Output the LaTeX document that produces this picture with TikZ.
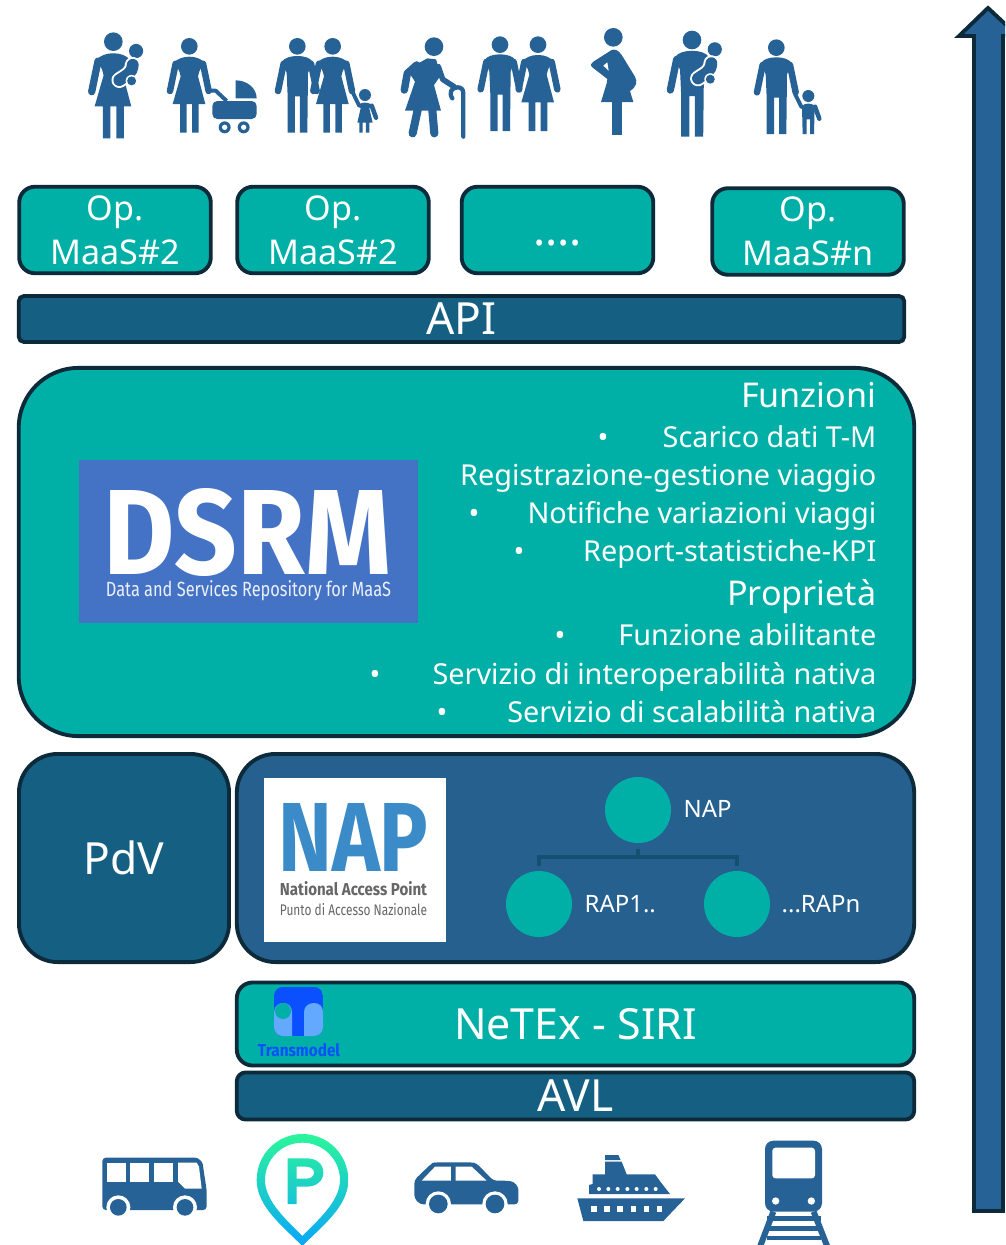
\documentclass[tikz,border=0pt]{standalone}
\usepackage{graphicx}
\usepackage{fontspec}
\setmainfont{Noto Sans}
\newfontfamily\logofont{Fira Sans}

\definecolor{tealbox}{HTML}{00B0A6}
\definecolor{darkteal}{HTML}{156082}
\definecolor{napblue}{HTML}{25608F}
\definecolor{iconblue}{HTML}{266295}
\definecolor{edgeblue}{HTML}{0C2A3A}
\definecolor{dsrmblue}{HTML}{4472C4}
\definecolor{naptext}{HTML}{3A8BC8}
\definecolor{treeline}{HTML}{14506F}
\definecolor{tmlight}{HTML}{63A9FF}
\definecolor{tmdark}{HTML}{0A50FF}
\definecolor{pintop}{HTML}{2CF59B}
\definecolor{pinbottom}{HTML}{0AA6F8}

\tikzset{
    tealframe/.style={draw=edgeblue,line width=1.1pt,fill=tealbox,text=white,inner sep=0pt},
    darkframe/.style={draw=edgeblue,line width=1.1pt,fill=darkteal,text=white,inner sep=0pt},
    opbox/.style={tealframe,minimum width=1.915cm,minimum height=0.865cm,rounded corners=4.5pt,align=center,font=\fontsize{9.7}{12.6}\selectfont},
    bigtext/.style={font=\fontsize{12.6}{15}\selectfont},
    rowtext/.style={text=white,anchor=east,inner sep=0pt,text height=8.1pt,text depth=2pt,font=\fontsize{8.2}{11}\selectfont},
    headtext/.style={text=white,anchor=east,inner sep=0pt,text height=9.4pt,text depth=2.5pt,font=\fontsize{9.7}{12}\selectfont},
    rapnode/.style={circle,fill=tealbox,minimum size=0.66cm,inner sep=0pt},
    raplabel/.style={text=white,anchor=west,inner sep=0pt,font=\fontsize{6.8}{8}\selectfont},
    treelink/.style={draw=treeline,line width=1.1pt},
    iconlimb/.style={draw=iconblue,line cap=round,line join=round,line width=#1*1.85pt}
}

% figures, head at the origin, head radius 25
\newcommand{\manbody}{
    \fill [iconblue] (0,0) circle (25);
    \fill [iconblue] (0,29) .. controls (-20,29) and (-38,34) .. (-46,46) -- (-32,80) -- (-29,150) -- (-29,259) -- (-7,259) -- (-7,150) -- (8,150) -- (8,259) -- (30,259) -- (32,80) -- (46,46) .. controls (38,34) and (20,29) .. (0,29);
}
\newcommand{\womanbody}{
    \fill [iconblue] (0,0) circle (25);
    \fill [iconblue] (0,31) .. controls (-20,31) and (-36,38) .. (-44,48) -- (-30,75) -- (-26,90) -- (-50,173) -- (-28,173) -- (-28,259) -- (-8,259) -- (-8,173) -- (8,173) -- (8,259) -- (28,259) -- (28,173) -- (48,173) -- (26,90) -- (30,75) -- (44,48) .. controls (36,38) and (20,31) .. (0,31);
}
\newcommand{\armleft}[1]{\draw [iconlimb=#1] (-41,52) -- (-58,134);}
\newcommand{\armright}[1]{\draw [iconlimb=#1] (41,52) -- (58,134);}
\newcommand{\babyfig}[1]{
    \fill [iconblue] (61,25) circle (19);
    \draw [white,line width=#1*4pt,line cap=round] (52,62) .. controls (50,85) and (38,88) .. (16,103);
    \draw [iconblue,line width=#1*3pt,line cap=round] (52,62) .. controls (50,85) and (38,88) .. (16,103);
    \fill [white] (49,105) circle (16);
    \fill [iconblue] (49,105) circle (12);
}
\newcommand{\kidtorso}{
    \fill [iconblue] (0,0) circle (18);
    \draw [iconlimb=0.7] (20,32) -- (33,68);
}

\begin{document}
\begin{tikzpicture}[x=0.01cm,y=-0.01cm]
    \useasboundingbox (0,0) rectangle (1005,1245);
    \clip (0,0) rectangle (1005,1245);

    %%%%%%%%%%%%%%%%%%% Operators %%%%%%%%%%%%%%%%%%%%%%%%%%%
    \node [opbox] (opa) at (115,230) {Op.\\MaaS\#2};
    \node [opbox] (opb) at (333,230) {Op.\\MaaS\#2};
    \node [opbox] (opc) at (557.5,230) {{\fontsize{13}{15}\selectfont\raisebox{-1.3ex}{....}}};
    \node [opbox] (opn) at (808,231.5) {Op.\\MaaS\#n};
    \node [darkframe,bigtext,minimum width=8.85cm,minimum height=0.46cm,rounded corners=1.5pt] (api) at (461.5,319) {API};

    %%%%%%%%%%%%%%%%%%% DSRM %%%%%%%%%%%%%%%%%%%%%%%%%%%%%%%
    \node [tealframe,minimum width=8.95cm,minimum height=3.68cm,rounded corners=17pt] (dsrm) at (466.5,552) {};
    \node [fill=dsrmblue,minimum width=3.39cm,minimum height=1.63cm,inner sep=0pt] (dsrmlogo) at (248.5,541.5) {};
    \node [inner sep=0pt,text=white] (dsrmname) at (247.5,532) {\resizebox{2.88cm}{0.86cm}{\logofont\bfseries DSRM}};
    \node [inner sep=0pt,text=white!90!dsrmblue] (dsrmsub) at (248.5,591) {\resizebox{2.85cm}{0.16cm}{\logofont Data and Services Repository for MaaS}};

    \node [headtext] (funz) at (877,395) {Funzioni};
    \node [headtext] (prop) at (877,593) {Proprietà};
    \foreach \nam/\yy/\txt in {a/437/Scarico dati T-M,b/475/Registrazione-gestione viaggio,c/513/Notifiche variazioni viaggi,d/551/Report-statistiche-KPI,e/635/Funzione abilitante,f/674/Servizio di interoperabilità nativa,g/712/Servizio di scalabilità nativa} {
        \node [rowtext] (row\nam) at (877,\yy) {\txt};
    }
    \foreach \nam/\xx/\yy in {a/603/437,c/474/513,d/519/551,e/560/635,f/375/674,g/442/712} {
        \node [rowtext,anchor=center] (dot\nam) at (\xx,\yy) {•};
    }

    %%%%%%%%%%%%%%%%%%% PdV and NAP %%%%%%%%%%%%%%%%%%%%%%%%%%
    \node [darkframe,bigtext,minimum width=2.1cm,minimum height=2.08cm,rounded corners=11pt] (pdv) at (124,858) {PdV};
    \node [tealframe,fill=napblue,minimum width=6.77cm,minimum height=2.08cm,rounded corners=11pt] (nap) at (575.5,858) {};
    \node [fill=white,minimum width=1.82cm,minimum height=1.64cm,inner sep=0pt] (naplogo) at (355,860) {};
    \node [inner sep=0pt,text=naptext] (napname) at (353.5,837) {\resizebox{1.5cm}{0.68cm}{\logofont\bfseries NAP}};
    \node [inner sep=0pt,text=black!60] (napline) at (353.5,889) {\resizebox{1.47cm}{0.14cm}{\logofont\bfseries National Access Point}};
    \node [inner sep=0pt,text=black!60] (napsub) at (353.5,910) {\resizebox{1.47cm}{0.12cm}{\logofont Punto di Accesso Nazionale}};

    % tree
    \node [rapnode] (naproot) at (638,810) {};
    \node [rapnode] (rapa) at (539,904) {};
    \node [rapnode] (rapn) at (737,904) {};
    \coordinate (napstub) at (638,849);
    \coordinate (napjoin) at (638,857);
    \coordinate (rapatop) at (539,866);
    \coordinate (rapntop) at (737,866);
    \draw [treelink] (napstub) -- (napjoin);
    \draw [treelink] (napjoin) -| (rapatop);
    \draw [treelink] (napjoin) -| (rapntop);
    \node [raplabel] (labnap) at (683,809) {NAP};
    \node [raplabel] (laba) at (584,904) {RAP1..};
    \node [raplabel] (labn) at (781,904) {...RAPn};

    %%%%%%%%%%%%%%%%%%% Bottom bars %%%%%%%%%%%%%%%%%%%%%%%%%%
    \node [tealframe,font=\fontsize{12.2}{15}\selectfont,minimum width=6.77cm,minimum height=0.83cm,rounded corners=4.5pt] (netex) at (575.5,1024) {NeTEx - SIRI};
    \node [darkframe,bigtext,minimum width=6.77cm,minimum height=0.47cm,rounded corners=2.5pt] (avl) at (575.5,1096) {AVL};

    % Transmodel
    \begin{scope}
        \clip [rounded corners=2.5pt] (274,987) rectangle (323,1036);
        \fill [tmdark] (274,987) rectangle (323,1036);
        \fill [tmlight] (274,1036) -- (274,1012) .. controls (274,1006) and (279,1003) .. (283,1003) .. controls (288,1003) and (292,1006) .. (292,1012) -- (292,1036) -- cycle;
        \fill [tmlight] (304,1036) -- (304,1012) .. controls (304,1006) and (309,1003) .. (314,1003) .. controls (319,1003) and (323,1006) .. (323,1012) -- (323,1036) -- cycle;
    \end{scope}
    \fill [tealbox] (283,1011) circle (8);
    \node [inner sep=0pt,text=tmdark] (tmname) at (299,1050) {\resizebox{0.82cm}{0.13cm}{\logofont\bfseries Transmodel}};

    %%%%%%%%%%%%%%%%%%% Side arrow %%%%%%%%%%%%%%%%%%%%%%%%%%
    \draw [draw=edgeblue,line width=1.1pt,fill=iconblue,line join=miter] (988,8) -- (1018,36) -- (1003,36) -- (1003,1211) -- (974,1211) -- (974,36) -- (959,36) -- cycle;

    %%%%%%%%%%%%%%%%%%% People, first half %%%%%%%%%%%%%%%%%%%
    \begin{scope}[shift={(70,20)},scale=1/3]
        % mother and baby
        \begin{scope}[shift={(130,65)},scale=1.12]
            \womanbody \armleft{1.12} \babyfig{1.12}
        \end{scope}
        % mother and stroller
        \begin{scope}[shift={(358,79)}]
            \womanbody \armleft{1} \armright{1}
        \end{scope}
        \draw [iconlimb=0.6,line cap=butt] (415,212) -- (437,212) -- (470,243);
        \fill [iconblue] (497,181) .. controls (532,181) and (560,205) .. (560,235) -- (497,235) -- cycle;
        \fill [iconblue,rounded corners=1.4pt] (427,243) -- (560,243) -- (560,297) -- (427,297) -- cycle;
        \foreach \xx in {464,521} {
            \fill [iconblue] (\xx,322) circle (18);
            \fill [white] (\xx,322) circle (8);
        }
        % couple and child
        \begin{scope}[shift={(682,79)}]
            \manbody \armleft{1} \armright{1}
        \end{scope}
        \begin{scope}[shift={(788,79)}]
            \womanbody \armleft{1} \armright{1}
        \end{scope}
        \draw [iconlimb=0.6] (846,213) -- (868,258);
        \begin{scope}[shift={(885,225)}]
            \kidtorso
            \fill [iconblue] (0,23) .. controls (-10,23) and (-18,26) .. (-20,32) -- (-13,40) -- (-23,83) -- (-17,83) -- (-17,113) -- (-7,113) -- (-7,83) -- (3,83) -- (3,113) -- (13,113) -- (13,83) -- (23,83) -- (13,40) -- (20,32) .. controls (18,26) and (10,23) .. (0,23);
        \end{scope}
        % old woman and cane
        \fill [iconblue] (1092,80) circle (28);
        \fill [iconblue] (1072,115) -- (1098,118) -- (1113,165) -- (1092,195) -- (1113,272) -- (1005,272) -- (1035,185) -- (1022,165) -- (1008,150) -- cycle;
        \draw [iconlimb=1.15] (1040,135) -- (1012,160) -- (1003,210);
        \draw [iconlimb=0.85] (1105,140) -- (1118,178) -- (1152,200);
        \draw [iconlimb=1.25] (1043,270) -- (1028,340);
        \draw [iconlimb=1.25] (1087,270) -- (1093,340);
        \draw [iconlimb=0.66] (1147,235) .. controls (1135,218) and (1145,202) .. (1163,202) .. controls (1175,202) and (1180,210) .. (1180,220) -- (1180,350);
    \end{scope}

    %%%%%%%%%%%%%%%%%%% People, second half %%%%%%%%%%%%%%%%%%
    \begin{scope}[shift={(460,20)},scale=1/3]
        % couple
        \begin{scope}[shift={(120,74)}]
            \manbody \armleft{1} \armright{1}
        \end{scope}
        \begin{scope}[shift={(234,74)}]
            \womanbody \armleft{1} \armright{1}
        \end{scope}
        % pregnant woman
        \fill [iconblue] (460,52) circle (28);
        \fill [iconblue] (455,90) .. controls (465,87) and (475,90) .. (485,105) -- (525,170) .. controls (533,185) and (530,200) .. (510,213) -- (520,246) -- (423,246) -- (440,190) -- (442,177) -- (397,142) .. controls (390,135) and (393,130) .. (400,125) -- cycle;
        \fill [white] (430,137) -- (442,127) -- (446,152) -- cycle;
        \fill [iconblue] (457,240) rectangle (486,346);
        % father and baby
        \begin{scope}[shift={(696,60)},scale=1.12]
            \manbody \armleft{1.12} \babyfig{1.12}
        \end{scope}
        % father and child
        \begin{scope}[shift={(949,83)}]
            \manbody \armleft{1} \armright{1}
        \end{scope}
        \draw [iconlimb=0.6] (1005,222) -- (1025,262);
        \begin{scope}[shift={(1045,228)}]
            \kidtorso
            \fill [iconblue] (0,23) .. controls (-10,23) and (-17,26) .. (-19,32) -- (-17,114) -- (-5,114) -- (-5,70) -- (5,70) -- (5,114) -- (17,114) -- (19,32) .. controls (17,26) and (10,23) .. (0,23);
        \end{scope}
    \end{scope}

    %%%%%%%%%%%%%%%%%%% Vehicles %%%%%%%%%%%%%%%%%%%%%%%%%%%%%
    \begin{scope}[shift={(70,1130)},scale=1/3]
        % bus
        \fill [iconblue,rounded corners=1pt] (97,83) -- (365,83) .. controls (385,83) and (398,95) .. (400,115) -- (410,180) -- (410,240) -- (97,240) -- cycle;
        \foreach \xx in {110,181,252} {
            \fill [white] (\xx,98) rectangle (\xx+57,155);
        }
        \fill [white] (324,98) -- (380,98) -- (387,110) -- (395,176) -- (345,176) -- (324,155) -- cycle;
        \foreach \xx in {145,345} {
            \fill [white] (\xx,232) circle (36);
        }
        \fill [white] (90,246) rectangle (420,265);
        \foreach \xx in {145,345} {
            \fill [iconblue] (\xx,232) circle (25);
        }
        % parking
        \shade [even odd rule,top color=pintop,bottom color=pinbottom]
            (697,348) .. controls (640,290) and (560,230) .. (560,150) .. controls (560,74) and (621,12) .. (697,12) .. controls (773,12) and (835,74) .. (835,150) .. controls (835,230) and (754,290) .. (697,348) -- cycle
            (697,318) .. controls (655,275) and (585,215) .. (585,150) .. controls (585,88) and (635,38) .. (697,38) .. controls (759,38) and (810,88) .. (810,150) .. controls (810,215) and (739,275) .. (697,318) -- cycle
            (653,85) -- (710,85) .. controls (740,85) and (760,102) .. (760,128) .. controls (760,152) and (740,170) .. (710,170) -- (680,170) -- (680,222) -- (653,222) -- cycle
            (680,110) -- (708,110) .. controls (722,110) and (732,117) .. (732,128) .. controls (732,139) and (722,146) .. (708,146) -- (680,146) -- cycle;
        % car
        \fill [iconblue,rounded corners=1pt] (1033,150) -- (1085,100) -- (1095,97) -- (1205,97) -- (1220,100) -- (1270,152) -- (1310,152) .. controls (1335,155) and (1345,170) .. (1345,190) -- (1345,223) -- (1050,223) -- (1033,205) -- cycle;
        \fill [white] (1055,152) -- (1095,110) -- (1143,110) -- (1143,152) -- cycle;
        \fill [white] (1157,110) -- (1205,110) -- (1250,152) -- (1157,152) -- cycle;
        \foreach \xx in {1105,1275} {
            \fill [white] (\xx,222) circle (38);
        }
        \fill [white] (1020,226) rectangle (1350,265);
        \foreach \xx in {1105,1275} {
            \fill [iconblue] (\xx,222) circle (28);
        }
    \end{scope}
    \begin{scope}[shift={(470,1130)},scale=1/3]
        % ship
        \fill [iconblue] (322,205) -- (645,205) -- (580,273) -- (340,273) -- cycle;
        \foreach \xx in {372,411,450,490,529,568} {
            \fill [white] (\xx-8,229) rectangle (\xx+8,245);
        }
        \fill [iconblue] (357,192) -- (600,192) -- (575,160) -- (555,133) -- (470,133) -- (455,95) -- (405,95) -- (405,133) -- (368,133) -- (368,162) -- (357,165) -- cycle;
        \fill [iconblue] (405,75) -- (445,75) -- (452,90) -- (405,90) -- cycle;
        \foreach \xx in {387,415,443,472,500,529,557} {
            \fill [white] (\xx,177) circle (6);
        }
        % train
        \fill [iconblue,rounded corners=2.4pt] (885,32) rectangle (1056,245);
        \fill [white,rounded corners=0.9pt] (907,53) rectangle (1035,145);
        \fill [white] (917,213) circle (11);
        \fill [white] (1024,213) circle (11);
        \draw [iconlimb=0.92,line cap=butt] (910,245) -- (870,350);
        \draw [iconlimb=0.92,line cap=butt] (1031,245) -- (1072,350);
        \foreach \yy in {266,295,324} {
            \fill [iconblue] (890,\yy-7) rectangle (1052,\yy+7);
        }
    \end{scope}
\end{tikzpicture}
\end{document}
